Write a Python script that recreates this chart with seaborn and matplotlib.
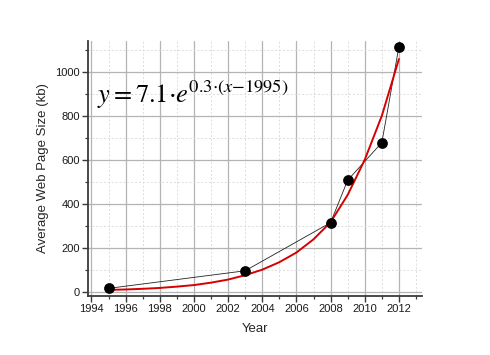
import matplotlib
matplotlib.use("Agg")
import matplotlib.pyplot as plt
import pandas as pd
import seaborn as sns
from matplotlib.ticker import MultipleLocator

# measured page sizes
YEARS = [1995, 2003, 2008, 2009, 2011, 2012]
SIZES = [15, 95, 314, 507, 678, 1114]

# red fitted curve
FIT_YEARS = [1995, 1996, 1997, 1998, 1999, 2000, 2001, 2002, 2003, 2004,
             2005, 2006, 2007, 2008, 2009, 2010, 2011, 2012]
FIT_SIZES = [8, 10, 13, 17, 23, 30, 41, 55, 75, 100,
             134, 178, 238, 316, 440, 600, 800, 1058]

EQUATION = r"$y = 7.1{\cdot}e^{0.3{\cdot}(x{-}1995)}$"


def style_axes(ax: plt.Axes) -> None:
    ax.xaxis.set_major_locator(MultipleLocator(2))
    ax.xaxis.set_minor_locator(MultipleLocator(1))
    ax.yaxis.set_major_locator(MultipleLocator(200))
    ax.yaxis.set_minor_locator(MultipleLocator(100))
    ax.grid(which="major", color="#b4b4b4", linewidth=0.9, linestyle="-")
    ax.grid(which="minor", color="#dcdcdc", linewidth=0.7, linestyle=(0, (2, 2)))
    ax.set_axisbelow(True)
    for side in ("top", "right"):
        ax.spines[side].set_visible(False)
    for side in ("left", "bottom"):
        ax.spines[side].set_color("#3a3a3a")
        ax.spines[side].set_linewidth(1.3)
    ax.tick_params(which="major", direction="out", length=4, width=1.0,
                   color="#3a3a3a", labelsize=8, pad=2, labelcolor="#1a1a1a")
    ax.tick_params(which="minor", direction="out", length=2.5, width=0.9,
                   color="#3a3a3a")
    ax.tick_params(axis="both", which="both", bottom=True, left=True)


def main() -> None:
    sns.set_theme(style="white")
    plt.rcParams["font.family"] = ["Liberation Sans", "DejaVu Sans"]
    plt.rcParams["mathtext.fontset"] = "stix"

    points = pd.DataFrame({"year": YEARS, "size": SIZES})
    fit = pd.DataFrame({"year": FIT_YEARS, "size": FIT_SIZES})

    fig = plt.figure(figsize=(4.9, 3.55), dpi=100)
    ax = fig.add_axes([0.1796, 0.166, 0.6816, 0.7185])

    sns.lineplot(data=points, x="year", y="size", color="#222222", linewidth=0.6, ax=ax)
    sns.lineplot(data=fit, x="year", y="size", color="#d60000", linewidth=1.4, ax=ax)
    sns.scatterplot(data=points, x="year", y="size", color="black", s=60,
                    edgecolor="black", linewidth=0, zorder=5, ax=ax)

    ax.set_xlim(1993.8, 2013.35)
    ax.set_ylim(-20, 1140)
    style_axes(ax)

    ax.set_xlabel("Year", fontsize=9.5, labelpad=6)
    ax.set_ylabel("Average Web Page Size (kb)", fontsize=9.5, labelpad=4)

    ax.text(1994.35, 858, EQUATION, fontsize=19, va="baseline", ha="left", color="black")

    fig.savefig("out.png", dpi=100)
    plt.close(fig)


if __name__ == "__main__":
    main()
